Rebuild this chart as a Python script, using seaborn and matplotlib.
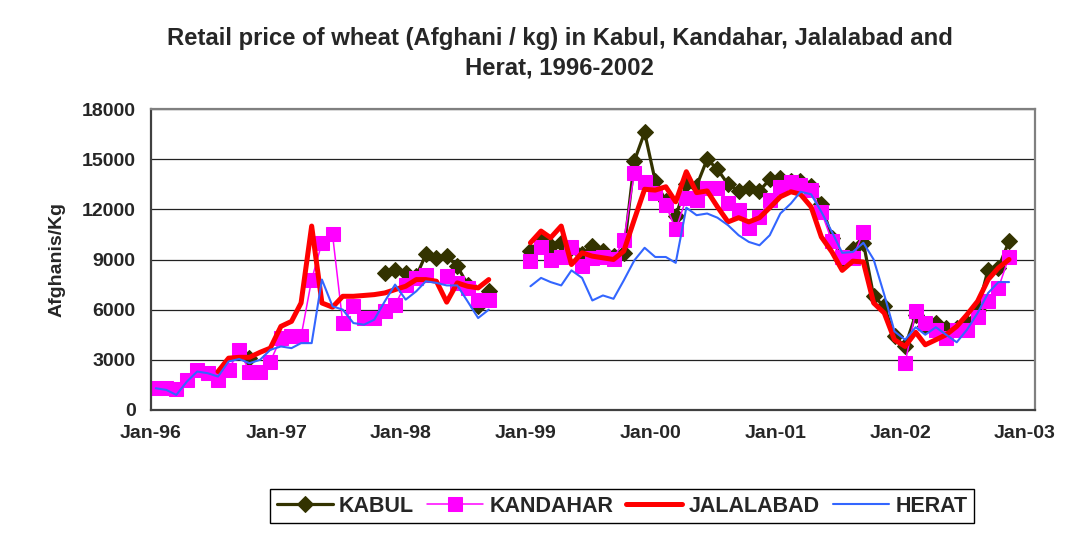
import numpy as np
import pandas as pd
import matplotlib
matplotlib.use("Agg")
import matplotlib.pyplot as plt
import matplotlib.dates as mdates
import seaborn as sns

nan = np.nan

# monthly observations, Jan-1996 .. Nov-2002 (mid-month), blank = not reported
months = pd.date_range("1996-01-01", "2002-11-01", freq="MS") + pd.Timedelta(days=14)

kabul = (
    [nan] * 9 + [3100, nan, nan]
    + [nan] * 10 + [8200, 8400]
    + [8200, 8000, 9300, 9100, 9200, 8600, 7500, 6200, 7100, nan, nan, nan]
    + [9500, 10300, 9800, 10000, 9700, 9300, 9800, 9500, 9200, 9400, 14900, 16600]
    + [13700, 12500, 11600, 13500, 13400, 15000, 14400, 13500, 13100, 13300, 13100, 13800]
    + [13900, 13700, 13700, 13400, 12300, 10300, 9000, 9600, 10000, 6800, 6200, 4400]
    + [3800, 5700, 5000, 5200, 4900, 4900, 5200, 6000, 8400, 8500, 10100]
)
kandahar = (
    [1300, 1300, 1250, 1800, 2400, 2200, 1800, 2400, 3600, 2300, 2300, 2900]
    + [4300, 4400, 4400, 7800, 10000, 10500, 5200, 6200, 5500, 5500, 5900, 6300]
    + [7500, 7900, 8100, nan, 8000, 7600, 7300, 6600, 6600, nan, nan, nan]
    + [8900, 9750, 9000, 9150, 9750, 8600, 9100, 9150, 9050, 10150, 14150, 13650]
    + [13000, 12250, 10800, 12650, 12550, 13300, 13300, 12350, 11950, 10900, 11550, 12550]
    + [13350, 13650, 13450, 13150, 11850, 10100, 9150, 9100, 10650, nan, nan, nan]
    + [2800, 5900, 5200, 4800, 4300, 4800, 4800, 5550, 6500, 7300, 9150]
)
jalalabad = (
    [nan] * 6 + [2300, 3100, 3150, 3150, 3450, 3700]
    + [5000, 5300, 6400, 11000, 6400, 6150, 6800, 6800, 6850, 6900, 7000, 7200]
    + [7400, 7800, 7800, 7700, 6450, 7600, 7400, 7300, 7800, nan, nan, nan]
    + [10000, 10700, 10300, 11000, 8700, 9400, 9200, 9100, 9000, 9500, 11400, 13200]
    + [13150, 13350, 12450, 14250, 13000, 13100, 12150, 11250, 11500, 11250, 11500, 12100]
    + [12750, 13050, 12900, 12150, 10350, 9450, 8350, 8900, 8850, 6400, 5800, 4200]
    + [3800, 4650, 3900, 4200, 4500, 5000, 5700, 6500, 7800, 8500, 9000]
)
herat = (
    [1300, 1200, 900, 1700, 2300, 2200, 2000, 2900, 3050, 2800, 3000, 3600]
    + [3800, 3700, 4000, 4000, 7800, 6200, 6000, 5200, 5100, 5400, 6500, 7500]
    + [6600, 7100, 7700, 7600, 7450, 7450, 6500, 5500, 6000, nan, nan, nan]
    + [7400, 7900, 7650, 7450, 8350, 7900, 6550, 6850, 6650, 7750, 8950, 9700]
    + [9150, 9150, 8800, 12100, 11650, 11750, 11500, 11050, 10450, 10050, 9850, 10450]
    + [11750, 12350, 13050, 12900, 11850, 10650, 9400, 9450, 10000, 9000, 6900, 4700]
    + [4200, 4950, 4500, 4950, 4500, 4050, 4800, 5800, 7000, 7650, 7650]
)

cities = ["KABUL", "KANDAHAR", "JALALABAD", "HERAT"]
values = [kabul, kandahar, jalalabad, herat]
colors = ["#333300", "#FF00FF", "#FF0000", "#3366FF"]
widths = [2.3, 1.1, 3.6, 1.5]
markers = ["D", "s", None, None]
msizes = [8.5, 10, 0, 0]

sns.set_style("white")
plt.rcParams["font.family"] = ["Liberation Sans", "DejaVu Sans"]
plt.rcParams["font.weight"] = "bold"

fig = plt.figure(figsize=(10.87, 5.33), dpi=100)
ax = fig.add_axes([151 / 1087, 1 - 410 / 533, 884 / 1087, 301 / 533])

for city, vals, col, lw, mk, ms in zip(cities, values, colors, widths, markers, msizes):
    df = pd.DataFrame({"date": months, "price": vals})
    # break the line where a month is missing
    df["seg"] = df["price"].isna().cumsum()
    df = df.dropna()
    kw = dict(marker=mk, markersize=ms, markeredgecolor=col, markerfacecolor=col) if mk else {}
    sns.lineplot(data=df, x="date", y="price", units="seg", estimator=None,
                 color=col, lw=lw, ax=ax, label=city, **kw)

ax.set_xlim(pd.Timestamp("1996-01-01"), pd.Timestamp("2003-01-30"))
ax.set_ylim(0, 18000)
ax.set_yticks(range(0, 18001, 3000))
ax.xaxis.set_major_locator(mdates.YearLocator())
ax.xaxis.set_major_formatter(mdates.DateFormatter("%b-%y"))
ax.yaxis.grid(True, color="#222222", lw=0.9)
ax.set_axisbelow(True)
for s in ax.spines.values():
    s.set_color("#808080")
    s.set_linewidth(1.6)
ax.spines["left"].set_color("#404040")
ax.spines["bottom"].set_color("#404040")
ax.tick_params(axis="both", direction="out", length=5, width=1, color="#202020",
               labelsize=14, pad=6)
for lab in ax.get_xticklabels() + ax.get_yticklabels():
    lab.set_fontweight("bold")
ax.set_xlabel("")
ax.set_ylabel("Afghanis/Kg", fontsize=14, fontweight="bold", labelpad=12)

fig.text(0.515, 1 - 53 / 533,
         "Retail price of wheat (Afghani / kg) in Kabul, Kandahar, Jalalabad and\nHerat, 1996-2002",
         ha="center", va="center", fontsize=17.2, fontweight="bold", linespacing=1.35)

# one legend entry per city (each city has several line segments)
ax.get_legend().remove()
h, l = ax.get_legend_handles_labels()
first = {}
for hh, ll in zip(h, l):
    first.setdefault(ll, hh)
leg = fig.legend([first[c] for c in cities], cities, loc="center",
                 bbox_to_anchor=(622 / 1087, 1 - 506 / 533), ncol=4,
                 frameon=True, fancybox=False, edgecolor="black", framealpha=1,
                 prop={"size": 15.5, "weight": "bold"}, handlelength=2.6,
                 handletextpad=0.3, columnspacing=0.6, borderpad=0.3)
leg.get_frame().set_linewidth(1.0)

fig.savefig("out.png", dpi=100)
